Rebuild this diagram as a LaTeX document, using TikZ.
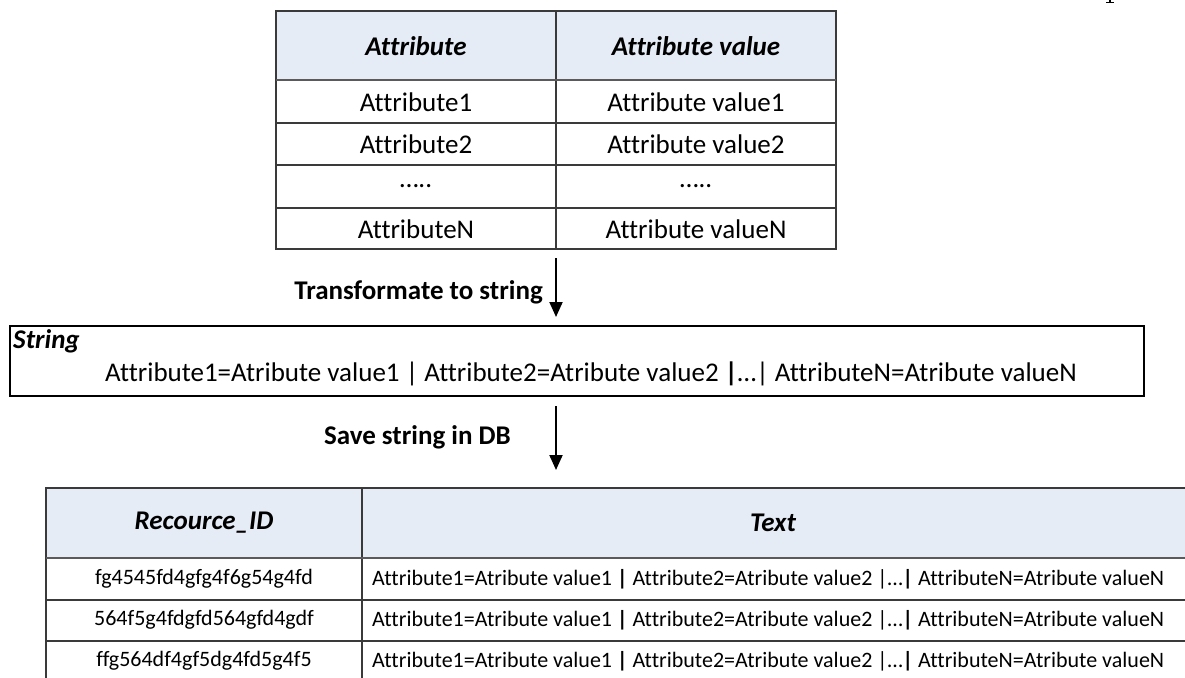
\documentclass[tikz,border=0pt]{standalone}
\usepackage{fontspec}
\setmainfont{Carlito}[Ligatures={NoCommon}]
\usetikzlibrary{arrows.meta}
\definecolor{headblue}{HTML}{E5ECF6}
\definecolor{rulegray}{HTML}{3A3A3A}
\definecolor{headrule}{HTML}{5A5A5A}
\tikzset{
  grid/.style={draw=rulegray, line width=1.6pt},
  headline/.style={draw=headrule, line width=2.6pt},
  bigtxt/.style={font=\fontsize{27}{32}\selectfont, inner sep=0pt},
  headtxt/.style={font=\fontsize{27}{32}\selectfont\bfseries\itshape, inner sep=0pt},
  smalltxt/.style={font=\fontsize{22}{27}\selectfont, inner sep=0pt},
  flow/.style={draw=black, line width=2pt, -{Triangle[width=13pt,length=15pt]}},
  labeltxt/.style={font=\fontsize{27}{32}\selectfont\bfseries, inner sep=0pt}
}
\begin{document}
\begin{tikzpicture}[x=1pt,y=-1pt]
\useasboundingbox (0,0) rectangle (1185,677);
\clip (0,0) rectangle (1185,677);

% ---------- attribute table ----------
\fill[headblue] (276,11) rectangle (836,80);
\node[draw=none, minimum width=560pt, minimum height=238pt, inner sep=0pt] (attrtab) at (556,130) {};
\draw[grid] (276,11) rectangle (836,249);
\draw[grid] (556,11) -- (556,249);
\foreach \yy in {123,165,208} \draw[grid] (276,\yy) -- (836,\yy);
\draw[headline] (276,80) -- (836,80);
\node[headtxt] (hattr) at (416,46) {Attribute};
\node[headtxt] (hval)  at (696,46) {Attribute value};
\node[bigtxt] (a1) at (416,102) {Attribute1};
\node[bigtxt] (v1) at (696,102) {Attribute value1};
\node[bigtxt] (a2) at (416,144) {Attribute2};
\node[bigtxt] (v2) at (696,144) {Attribute value2};
\node[bigtxt] (a3) at (416,186) {…..};
\node[bigtxt] (v3) at (696,186) {…..};
\node[bigtxt] (aN) at (416,229) {AttributeN};
\node[bigtxt] (vN) at (696,229) {Attribute valueN};

% ---------- string box ----------
\node[draw=black, line width=2pt, minimum width=1134pt, minimum height=70pt, inner sep=0pt] (strbox) at (577,361) {};
\node[headtxt, anchor=north west] (strlbl) at (13,329) {String};
\node[bigtxt] (strtxt) at (591,374) {Attribute1=Atribute value1 | Attribute2=Atribute value2 \textbf{|}…| AttributeN=Atribute valueN};

% ---------- arrows (both on the column divider line x = 556) ----------
\coordinate (in1) at (strbox.north -| attrtab.south);
\coordinate (out2) at (strbox.south -| attrtab.south);
\coordinate (dbtop) at (556,488);
\draw[flow] ([yshift=-9pt]attrtab.south) -- ([yshift=8pt]in1);
\node[labeltxt, anchor=east] (lbl1) at (543,292) {Transformate to string};
\draw[flow] ([yshift=-9pt]out2) -- ([yshift=18pt]dbtop);
\node[labeltxt, anchor=east] (lbl2) at (511,437) {Save string in DB};

% ---------- resource table ----------
\fill[headblue] (46,488) rectangle (1200,558);
\draw[grid] (1200,488) -- (46,488) -- (46,700);
\draw[grid] (362,488) -- (362,700);
\foreach \yy in {600,641} \draw[grid] (46,\yy) -- (1200,\yy);
\draw[headline] (46,558) -- (1200,558);
\node[headtxt] (hid)  at (204,523) {Recource\_ID};
\node[headtxt] (htxt) at (773,523) {Text};
\node[smalltxt] (id1) at (204,579) {fg4545fd4gfg4f6g54g4fd};
\node[smalltxt] (id2) at (204,620) {564f5g4fdgfd564gfd4gdf};
\node[smalltxt] (id3) at (204,661) {ffg564df4gf5dg4fd5g4f5};
\node[smalltxt, anchor=west] (t1) at (372,579) {Attribute1=Atribute value1 \textbf{|} Attribute2=Atribute value2 |…\textbf{|} AttributeN=Atribute valueN};
\node[smalltxt, anchor=west] (t2) at (372,620) {Attribute1=Atribute value1 \textbf{|} Attribute2=Atribute value2 |…\textbf{|} AttributeN=Atribute valueN};
\node[smalltxt, anchor=west] (t3) at (372,661) {Attribute1=Atribute value1 \textbf{|} Attribute2=Atribute value2 |…\textbf{|} AttributeN=Atribute valueN};

% ---------- foot of a glyph at the upper edge ----------
\fill[black] (1109,0) rectangle (1111,3);
\fill[black] (1106,2.2) rectangle (1114,3.4);
\end{tikzpicture}
\end{document}
